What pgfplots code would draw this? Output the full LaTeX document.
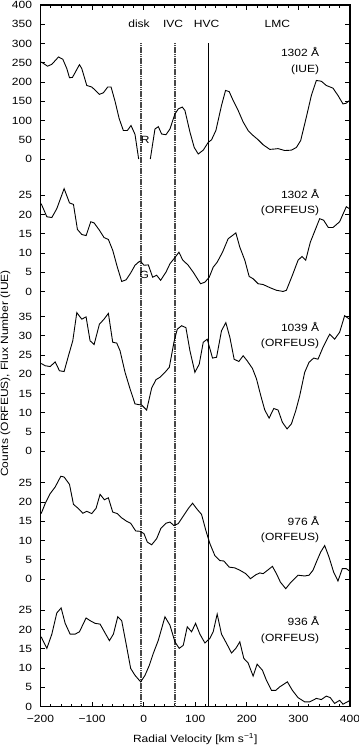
\documentclass[border=0pt]{standalone}
\usepackage{fontspec}
\setmainfont{Liberation Sans}[FakeStretch=1.15]
\usepackage{pgfplots}
\pgfplotsset{compat=1.18}
\usepackage{pgfplotstable}

% 1302 A (IUE), flux number, split at the gap near v=0
\pgfplotstableread{
v c
-198.7 252
-194.1 248
-186.4 241
-178 246
-165.1 265
-156.7 259
-149 235
-143.8 211
-138 212
-124.5 245
-120 235
-110.3 191
-100.6 187
-94.2 179
-85.8 168
-78.1 172
-69.7 187
-63.2 187
-55.5 150
-47.5 105
-39.4 74
-31.6 74
-24.5 87
-16.8 64
-9.7 0
}\pOneA
\pgfplotstableread{
v c
12.9 0
21.9 78
28.4 84
34.8 65
43.2 63
51 78
60.6 117
67.1 130
74.8 135
80 126
89.7 70
98 30
105.8 13
115.5 23
125.1 43
131.6 50
140 74
150.9 139
158.7 178
165.8 175
173.5 152
183.2 126
192.9 96
202.5 74
212.2 61
221.9 50
231.6 37
244.5 25
254.1 26
260.6 27
273.5 22
286.4 23
296.1 30
304.4 48
315.4 109
325.1 165
334.8 204
344.4 202
354.1 191
367 184
376.7 165
386.4 143
392.8 145
399 152
}\pOneB
% 1302 A (ORFEUS), counts
\pgfplotstableread{
v c
-198.7 22.8
-187.7 19.4
-178 19.2
-168.4 21.5
-154.2 26.7
-143.8 23
-136.1 22.6
-128.4 16.1
-120 14.8
-111.6 14.5
-102.6 18.1
-96.1 17.8
-85.8 15.9
-76.8 14
-68.4 13.5
-60 10.7
-51 6.3
-42.6 2.6
-34.2 3
-25.2 4.8
-16.8 6.8
-8.4 7.8
-3.9 7.5
0.6 6.8
9 6.9
17.4 3.7
25.2 4.2
32.9 2.9
43.2 5
51 7.2
60.6 8.8
68.4 10.2
75.5 8.2
86.4 6.8
96.1 5
110.3 2
118.7 2.4
127.1 3.7
134.8 6.3
142.5 7.6
152.9 10.2
163.8 13.7
178.7 15.2
186.4 11.5
196.1 8.1
204.5 3.9
212.2 3.3
221.9 2
231.6 1.8
244.5 1
257.4 0.3
270.3 0
276.7 0.3
288.3 4.2
299.3 8.1
307 9.1
314.1 8.1
323.1 12.8
333.5 16.3
341.2 18.9
348.9 18.5
358 16.6
367 16.6
379.9 18.1
392.8 22
399 21.5
}\pTwo
% 1039 A (ORFEUS)
\pgfplotstableread{
v c
-198.7 22.8
-190.9 22.2
-181.2 22
-171.6 23.2
-163.2 20.9
-154.2 20.7
-145.8 24.8
-137.4 28.7
-129.6 36
-120 34.3
-111.6 34.9
-103.9 28.7
-96.1 27.7
-85.8 33
-76.8 34.3
-68.4 35.8
-60 28.3
-52.2 28.1
-45.8 26.1
-36.1 20.5
-26.4 16.2
-16.8 12.3
-9 12.1
-3.9 12
5.8 10.7
15.5 16.4
23.9 18.6
31.6 19.2
41.3 20.5
49.7 21.8
58.7 28.3
65.1 31.7
73.5 32.6
81.9 32.1
89.7 26.1
99.3 20.5
107.7 22.6
115.5 28.3
123.2 29.1
133.5 24.2
141.3 24.4
150.9 31.3
159.3 33.4
167.1 29.6
175.4 23.9
184.5 23.3
192.9 24.8
200.6 23.5
210.9 21.5
218.7 18.8
227.1 14.4
234.8 10.7
243.2 8.6
252.2 11.1
260.6 10.7
269 7.5
278 5.8
286.4 7.1
294.8 10.5
302.5 14.4
312.2 20.5
320.6 23.1
329.6 24.2
338 23.9
347.7 27
360.6 30.4
370.2 29.1
379.9 30.9
389.6 35.2
399 34.3
}\pThree
% 976 A (ORFEUS)
\pgfplotstableread{
v c
-198.7 17
-190.9 19.6
-181.2 22.2
-171.6 23.9
-160.6 26.7
-154.2 26.5
-143.8 24.6
-136.1 19.4
-126.4 18.3
-118 17.1
-110.3 17.6
-100.6 17
-92.2 18.4
-84.5 22
-76.1 20.6
-68.4 21.1
-60 17.4
-51 17
-42.6 15.9
-32.9 15
-25.2 14.5
-15.5 12.5
-7.1 12.4
0.6 11.8
7.1 9.6
15.5 8.9
25.2 10.5
33.5 13.2
43.2 14.5
51 14.8
58.7 13.9
67.1 14.4
75.5 16.1
86.4 18.3
94.8 19.7
102.6 18.3
112.2 16.8
120.6 12.6
128.4 9.2
138 6.1
147.7 4.8
155.4 4.7
165.8 3.1
176.7 2.9
186.4 2.3
198 1.4
207 0.1
217.4 1.1
225.1 1.6
231.6 1.4
241.2 2.4
249.6 3.3
257.4 1.4
265.1 -0.8
275.4 -2.5
284.4 -1
299.3 1
312.2 0.8
320.6 1
328.3 2.3
336 4.8
343.1 7
350.9 8.7
359.3 5.7
368.3 1.8
376.7 -0.5
385.1 2.7
392.8 2.7
399 2.1
}\pFour
% 936 A (ORFEUS)
\pgfplotstableread{
v c
-198.7 18.1
-187.7 15.1
-178 18.8
-168.4 24.3
-160 25.6
-152.2 21.6
-142.6 18.8
-132.9 18.8
-124.5 19.4
-111.6 23
-103.9 22.3
-94.2 21.6
-84.5 21.4
-76.1 19.4
-66.4 17.1
-58.7 18.8
-50.3 23.3
-42.6 22.3
-34.2 16.4
-25.2 9.9
-16.8 8.1
-5.8 6.4
2.6 8.1
11 10.7
18.7 13.8
28.4 17.2
41.3 23.3
51 21.1
60.6 16.8
69 15.1
76.8 15.9
84.5 20.7
92.9 19.4
100.6 21.6
109 18.8
118.7 16.5
128.4 17.7
134.8 19.4
142.5 24
150.9 18.8
160.6 16.4
170.3 13.9
178.7 15.1
186.4 16.8
194.1 12.5
202.5 11.3
212.2 7.9
219.9 11
230.3 9.4
238 6.8
247.7 4.2
256.1 4.2
263.8 5.1
278.6 6.4
288.3 4.2
299.3 2.3
312.2 1.2
321.9 1.2
334.8 2.1
344.4 1.8
354.1 2.7
361.8 2.3
370.2 0.8
379.9 1.6
386.4 0.6
399 1.5
}\pFive

\begin{document}
\begin{tikzpicture}
\begin{axis}[
    scale only axis,
    width=309.5bp, height=701.5bp,
    xmin=-200, xmax=400,
    ymin=0, ymax=1822,
    clip=false,
    xtick={-200,-100,0,100,200,300,400},
    xticklabels={−200,−100,0,100,200,300,400},
    minor x tick num=4,
    ytick={0,50,100,150,200,250,
           331,381,431,481,531,581,
           663,713,763,813,863,913,963,1013,
           1078,1128,1178,1228,1278,1328,
           1422,1472,1522,1572,1622,1672,1722,1772,1822},
    yticklabels={0,5,10,15,20,25,
                 0,5,10,15,20,25,
                 0,5,10,15,20,25,30,35,
                 0,5,10,15,20,25,
                 0,50,100,150,200,250,300,350,400},
    tick align=inside,
    major tick length=5bp,
    minor tick length=3bp,
    axis line style={line width=1.1bp},
    every tick/.style={black, line width=0.8bp},
    tick label style={font=\fontsize{10.5}{12.6}\selectfont},
    xticklabel style={yshift=-5bp},
    yticklabel style={xshift=-5bp},
]
% velocity markers
\addplot[black!72, line width=1.7bp, dash pattern=on 1.6bp off 0.6bp] coordinates {(-5,0) (-5,1722)};
\addplot[black!72, line width=1.7bp, dash pattern=on 1.6bp off 0.6bp] coordinates {(60.5,0) (60.5,1722)};
\addplot[black, line width=0.7bp] coordinates {(125,0) (125,1722)};

\addplot[black, line width=0.9bp] table[x=v, y expr=\thisrow{c}+1422] {\pOneA};
\addplot[black, line width=0.9bp] table[x=v, y expr=\thisrow{c}+1422] {\pOneB};
\addplot[black, line width=0.9bp] table[x=v, y expr=10*\thisrow{c}+1078] {\pTwo};
\addplot[black, line width=0.9bp] table[x=v, y expr=10*\thisrow{c}+663] {\pThree};
\addplot[black, line width=0.9bp] table[x=v, y expr=10*\thisrow{c}+331] {\pFour};
\addplot[black, line width=0.9bp] table[x=v, y expr=10*\thisrow{c}] {\pFive};

\begin{scope}[every node/.style={font=\fontsize{10.5}{15.5}\selectfont}]
\node at (axis cs:-9,1773) {disk};
\node at (axis cs:57,1773) {IVC};
\node at (axis cs:122,1773) {HVC};
\node at (axis cs:259,1773) {LMC};
\node at (axis cs:3,1471) {R};
\node at (axis cs:1,1121) {G};
\node[align=right, anchor=east] at (axis cs:347,1676) {1302 Å\\(IUE)};
\node[align=right, anchor=east] at (axis cs:347,1309) {1302 Å\\(ORFEUS)};
\node[align=right, anchor=east] at (axis cs:347,963) {1039 Å\\(ORFEUS)};
\node[align=right, anchor=east] at (axis cs:347,460) {976 Å\\(ORFEUS)};
\node[align=right, anchor=east] at (axis cs:347,199) {936 Å\\(ORFEUS)};
\node[rotate=90] at ([xshift=-35bp]rel axis cs:0,0.4747) {Counts (ORFEUS), Flux Number (IUE)};
\node at ([yshift=-32.5bp]rel axis cs:0.5,0) {Radial Velocity [km s\textsuperscript{−1}]};
\end{scope}
\coordinate (sw) at (rel axis cs:0,0);
\coordinate (ne) at (rel axis cs:1,1);
\end{axis}
\pgfresetboundingbox
\path[use as bounding box] ([shift={(-40.5bp,-39.5bp)}]sw) rectangle ([shift={(9bp,5bp)}]ne);
\end{tikzpicture}
\end{document}
